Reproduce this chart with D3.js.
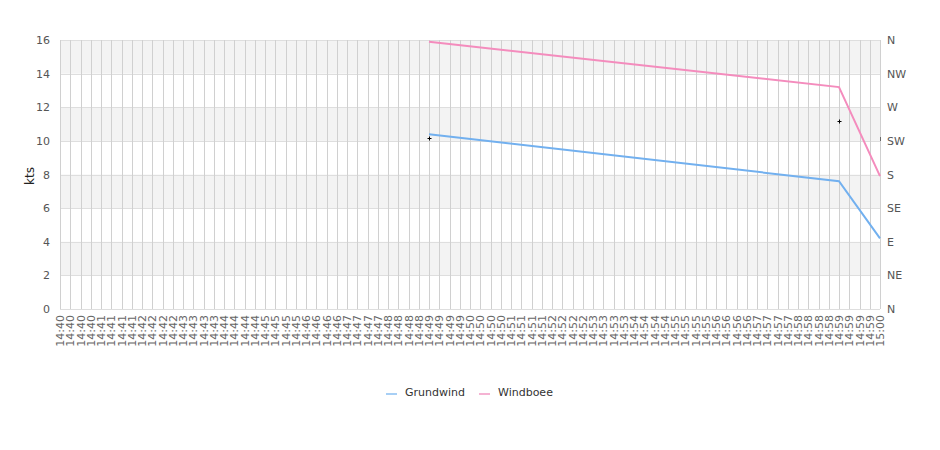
<!DOCTYPE html>
<html><head><meta charset="utf-8">
<script src="https://cdn.jsdelivr.net/npm/d3@7"></script>
<style>body{margin:0;background:#fff}text{font-family:"DejaVu Sans",sans-serif}</style>
</head><body><svg id="c" width="940" height="450"></svg>
<script>
// categories: 15-second samples, labelled HH:MM
const minutes = ["14:40","14:41","14:42","14:43","14:44","14:45","14:46","14:47","14:48","14:49",
                 "14:50","14:51","14:52","14:53","14:54","14:55","14:56","14:57","14:58","14:59"];
const labels = [];
minutes.forEach(m => { for (let k = 0; k < 4; k++) labels.push(m); });
labels.push("15:00");
// series (null = no sample)
const grundIdx = [36, 76, 80];
const grundVal = [10.4, 7.6, 4.2];
const boeeIdx = [36, 76, 80];
const boeeVal = [15.9, 13.2, 7.9];
const dirIdx = [36, 76, 80];
const dirVal = [229, 252, 229];
const yTicks = [0,2,4,6,8,10,12,14,16];
const dirLabels = ["N","NE","E","SE","S","SW","W","NW","N"];

const svg = d3.select("#c");
const L = 60, R = 880, T = 40, B = 309;
const x = d3.scaleLinear().domain([0, labels.length - 1]).range([L, R]);
const y = d3.scaleLinear().domain([0, 16]).range([B, T]);
const yDir = d3.scaleLinear().domain([0, 360]).range([B, T]);

// bands
svg.append("g").selectAll("rect").data(yTicks.slice(0, -1).filter(v => v % 4 === 2))
  .join("rect").attr("x", L).attr("width", R - L)
  .attr("y", d => y(d + 2)).attr("height", d => y(d) - y(d + 2)).attr("fill", "#f3f3f3");
// horizontal grid
svg.append("g").selectAll("line").data(yTicks).join("line")
  .attr("x1", L).attr("x2", R).attr("y1", d => Math.round(y(d)) + 0.5).attr("y2", d => Math.round(y(d)) + 0.5)
  .attr("stroke", "#dedede");
// vertical grid
svg.append("g").selectAll("line").data(labels.map((d, i) => i)).join("line")
  .attr("x1", d => Math.round(x(d)) + 0.5).attr("x2", d => Math.round(x(d)) + 0.5)
  .attr("y1", T).attr("y2", B).attr("stroke", "#d0d0d0");

// left axis labels
svg.append("g").selectAll("text").data(yTicks).join("text")
  .attr("x", 50).attr("y", d => y(d) + 4).attr("text-anchor", "end")
  .attr("font-size", 11).attr("fill", "#555").text(d => d);
// right axis labels
svg.append("g").selectAll("text").data(dirLabels).join("text")
  .attr("x", 887).attr("y", (d, i) => yDir(i * 45) + 4)
  .attr("font-size", 11).attr("fill", "#555").text(d => d);
// x labels
svg.append("g").selectAll("text").data(labels).join("text")
  .attr("transform", (d, i) => `translate(${x(i) + 4},315) rotate(-90)`)
  .attr("text-anchor", "end").attr("font-size", 11).attr("fill", "#666").text(d => d);
// y title
svg.append("text").attr("transform", "translate(34,176) rotate(-90)").attr("text-anchor", "middle")
  .attr("font-size", 12).attr("fill", "#222").text("kts");

const line = d3.line().x(d => x(d[0])).y(d => y(d[1]));
const series = [
  {name: "Grundwind", color: "#72b0ef", light: "#a7cff5", pts: grundIdx.map((d, i) => [d, grundVal[i]])},
  {name: "Windboee", color: "#f48cbd", light: "#f5b3d3", pts: boeeIdx.map((d, i) => [d, boeeVal[i]])}
];
series.forEach(s => {
  svg.append("path").attr("d", line(s.pts)).attr("fill", "none")
    .attr("stroke", s.color).attr("stroke-width", 2);
});
// direction markers
svg.append("g").selectAll("path").data(dirIdx.map((d, i) => [d, dirVal[i]])).join("path")
  .attr("d", (d, i) => { const cx = Math.round(x(d[0])) + 0.5, cy = Math.round(yDir(d[1])) + 0.5;
    return i === dirIdx.length - 1 ? `M${cx},${cy-1}V${cy}M${cx},${cy+1}V${cy+2}`
      : `M${cx-2},${cy}H${cx+2}M${cx},${cy-2}V${cy+2}`; })
  .attr("stroke", "#000").attr("stroke-width", 1);

// legend
const lg = svg.append("g");
const lx = [386, 479];
series.forEach((s, i) => {
  lg.append("line").attr("x1", lx[i]).attr("x2", lx[i] + 11).attr("y1", 394).attr("y2", 394)
    .attr("stroke", s.light).attr("stroke-width", 2);
  lg.append("text").attr("x", lx[i] + 19).attr("y", 396).attr("font-size", 11).attr("fill", "#333").text(s.name);
});
</script></body></html>
